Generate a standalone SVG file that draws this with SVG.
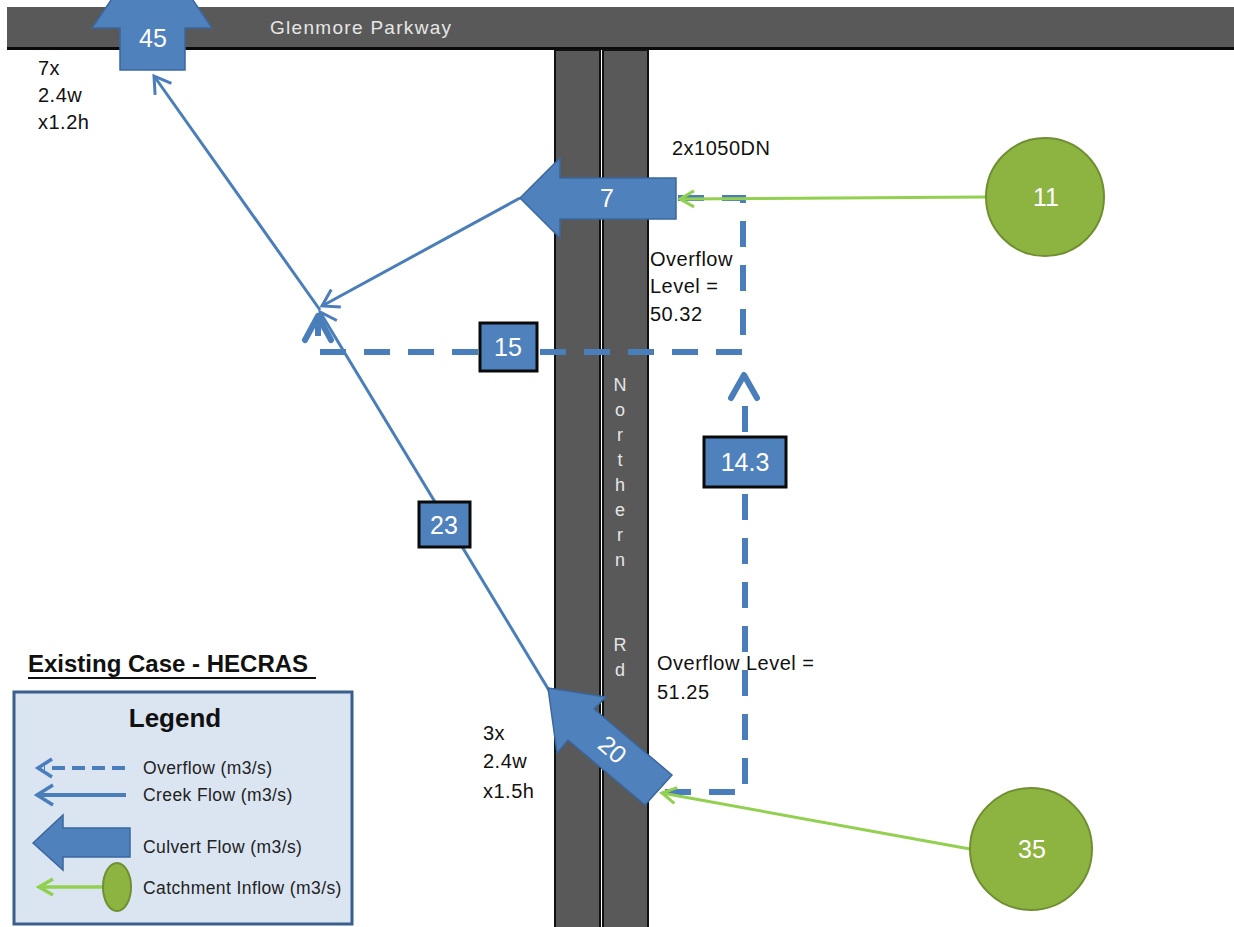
<svg xmlns="http://www.w3.org/2000/svg" width="1234" height="927" viewBox="0 0 1234 927">
<defs>
<style>
.road{fill:#595959;stroke:#111;stroke-width:2}
.roadtxt{font-family:"Liberation Sans",Arial,sans-serif;font-size:19px;letter-spacing:1.3px;fill:#e6e6e6}
.vtxt{font-family:"Liberation Sans",Arial,sans-serif;font-size:18px;fill:#e6e6e6}
.txt{font-family:"Liberation Sans",Arial,sans-serif;font-size:20px;letter-spacing:0.5px;fill:#111}
.ltxt{font-family:"Liberation Sans",Arial,sans-serif;font-size:17.5px;letter-spacing:0.4px;fill:#222}
.num{font-family:"Liberation Sans",Arial,sans-serif;font-size:25px;fill:#fff;text-anchor:middle}
.culvert{fill:#4f81bd;stroke:#3a679e;stroke-width:1.5}
.box{fill:#4f81bd;stroke:#0a0a0a;stroke-width:3}
.creek{fill:none;stroke:#4a7ebb;stroke-width:3}
.over{fill:none;stroke:#4a7ebb;stroke-width:6;stroke-dasharray:26 18}
.head{fill:none;stroke:#4a7ebb;stroke-width:6;stroke-linecap:round;stroke-linejoin:round}
.green{fill:none;stroke:#92d050;stroke-width:3}
.catch{fill:#8db441;stroke:#6f8f32;stroke-width:2}
</style>
<marker id="ah" markerUnits="userSpaceOnUse" markerWidth="30" markerHeight="30" viewBox="-20 -15 30 30" refX="0" refY="0" orient="auto">
<path d="M-16,-10 L0,0 L-16,10" fill="none" stroke="#4a7ebb" stroke-width="3"/>
</marker>
<marker id="gh" markerUnits="userSpaceOnUse" markerWidth="30" markerHeight="30" viewBox="-20 -15 30 30" refX="0" refY="0" orient="auto">
<path d="M-14,-8 L0,0 L-14,8" fill="none" stroke="#92d050" stroke-width="3"/>
</marker>
</defs>
<rect width="1234" height="927" fill="#fff"/>

<g id="glenmore-parkway">
<rect x="7" y="7" width="1230" height="42" fill="#595959"/>
<rect x="7" y="47" width="1230" height="3" fill="#0a0a0a"/>
<text class="roadtxt" x="270" y="34">Glenmore Parkway</text>
</g>

<g id="northern-rd">
<rect class="road" x="555" y="50" width="45" height="880"/>
<rect class="road" x="603" y="50" width="45" height="880"/>
<g class="vtxt" text-anchor="middle">
<text x="620" y="391">N</text>
<text x="620" y="416">o</text>
<text x="620" y="441">r</text>
<text x="620" y="466">t</text>
<text x="620" y="491">h</text>
<text x="620" y="516">e</text>
<text x="620" y="541">r</text>
<text x="620" y="566">n</text>
<text x="620" y="651">R</text>
<text x="620" y="676">d</text>
</g>
</g>

<g id="connectors">
<line class="creek" x1="320" y1="310" x2="154" y2="76" marker-end="url(#ah)"/>
<line class="creek" x1="520" y1="198" x2="322" y2="306" marker-end="url(#ah)"/>
<line class="creek" x1="550" y1="692" x2="320" y2="312" marker-end="url(#ah)"/>
<path class="over" d="M678,198 H743 V352 H318 V322"/>
<path class="head" d="M305,340 L318,316 L331,340"/>
<path class="over" d="M665,792 H745 V400"/>
<path class="head" d="M731,398 L744,375 L757,398"/>
<line class="green" x1="985" y1="197" x2="680" y2="199" marker-end="url(#gh)"/>
<line class="green" x1="970" y1="849" x2="662" y2="793" marker-end="url(#gh)"/>
</g>

<g id="culvert-45">
<polygon class="culvert" points="152,-60 212,28 185,28 185,70 120,70 120,28 92,28"/>
<text class="num" x="153" y="47" font-size="27">45</text>
</g>
<g id="label-45">
<text class="txt" x="38" y="75">7x</text>
<text class="txt" x="38" y="102">2.4w</text>
<text class="txt" x="38" y="129">x1.2h</text>
</g>

<g id="culvert-7">
<polygon class="culvert" points="520,198 560,158 560,178 676,178 676,219 560,219 560,238"/>
<text class="num" x="607" y="207">7</text>
</g>
<g id="label-2x1050DN">
<text class="txt" x="672" y="155">2x1050DN</text>
</g>
<g id="label-overflow-5032">
<text class="txt" x="650" y="266">Overflow</text>
<text class="txt" x="650" y="293">Level =</text>
<text class="txt" x="650" y="321">50.32</text>
</g>

<g id="box-15">
<rect class="box" x="480" y="323" width="57" height="48"/>
<text class="num" x="508" y="356">15</text>
</g>
<g id="box-14-3">
<rect class="box" x="704" y="437" width="82" height="50"/>
<text class="num" x="745" y="471">14.3</text>
</g>
<g id="box-23">
<rect class="box" x="419" y="502" width="51" height="45"/>
<text class="num" x="444" y="534">23</text>
</g>

<g id="culvert-20">
<polygon class="culvert" points="548,688 606,697 594,709 672,775 645,805 568,740 557,753"/>
<text class="num" x="612" y="758" transform="rotate(41 612 750)">20</text>
</g>
<g id="label-3x">
<text class="txt" x="483" y="740">3x</text>
<text class="txt" x="483" y="768">2.4w</text>
<text class="txt" x="483" y="798">x1.5h</text>
</g>
<g id="label-overflow-5125">
<text class="txt" x="657" y="670">Overflow Level =</text>
<text class="txt" x="657" y="699">51.25</text>
</g>

<g id="catchment-11">
<circle class="catch" cx="1045" cy="197" r="59"/>
<text class="num" x="1046" y="206">11</text>
</g>
<g id="catchment-35">
<circle class="catch" cx="1031" cy="849" r="61"/>
<text class="num" x="1032" y="858">35</text>
</g>

<g id="title">
<text x="28" y="672" font-family="'Liberation Sans',Arial,sans-serif" font-size="24" font-weight="bold" fill="#111">Existing Case - HECRAS</text>
<rect x="28" y="677" width="288" height="2" fill="#111"/>
</g>

<g id="legend">
<rect x="14" y="692" width="338" height="232" fill="#dbe5f1" stroke="#3b5f8c" stroke-width="3"/>
<text x="175" y="727" font-family="'Liberation Sans',Arial,sans-serif" font-size="26" font-weight="bold" fill="#111" text-anchor="middle">Legend</text>
<line x1="125" y1="768" x2="44" y2="768" fill="none" stroke="#4a7ebb" stroke-width="4" stroke-dasharray="13 7"/>
<path d="M52,759 L38,768 L52,777" fill="none" stroke="#4a7ebb" stroke-width="3.5"/>
<text class="ltxt" x="143" y="774">Overflow (m3/s)</text>
<line x1="126" y1="795" x2="38" y2="795" stroke="#4a7ebb" stroke-width="4"/>
<path d="M53,785 L37,795 L53,805" fill="none" stroke="#4a7ebb" stroke-width="3.5"/>
<text class="ltxt" x="143" y="801">Creek Flow (m3/s)</text>
<polygon class="culvert" points="33,843 63,815 63,828 130,828 130,857 63,857 63,870"/>
<text class="ltxt" x="143" y="853">Culvert Flow (m3/s)</text>
<line x1="104" y1="887" x2="40" y2="887" stroke="#92d050" stroke-width="3.5"/>
<path d="M53,879 L39,887 L53,895" fill="none" stroke="#92d050" stroke-width="3.5"/>
<ellipse class="catch" cx="117" cy="887" rx="14" ry="24"/>
<text class="ltxt" x="143" y="894">Catchment Inflow (m3/s)</text>
</g>
</svg>
